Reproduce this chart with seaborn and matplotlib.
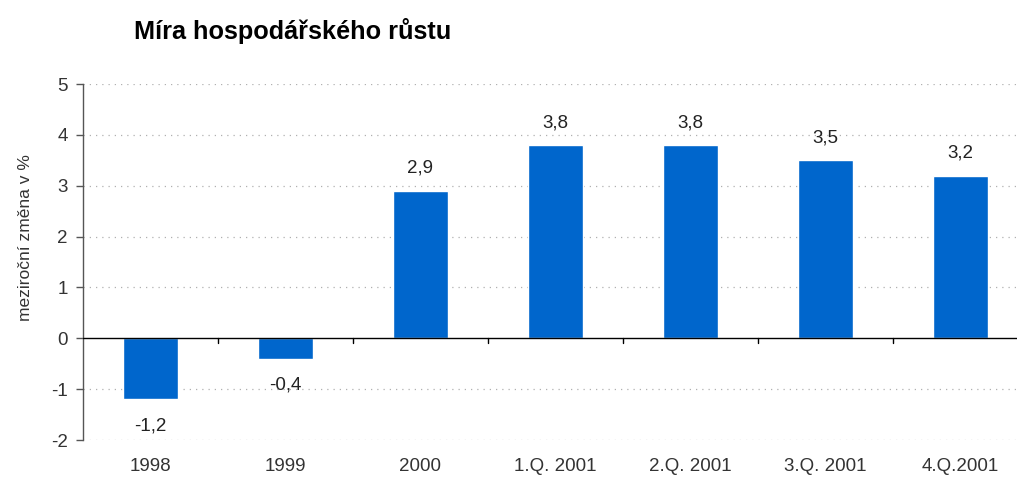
import matplotlib
matplotlib.use("Agg")
import matplotlib.pyplot as plt
import seaborn as sns
import numpy as np
import pandas as pd

categories = ["1998", "1999", "2000", "1.Q. 2001", "2.Q. 2001", "3.Q. 2001", "4.Q.2001"]
values = [-1.2, -0.4, 2.9, 3.8, 3.8, 3.5, 3.2]
yticks = [-2, -1, 0, 1, 2, 3, 4, 5]
title = "Míra hospodářského růstu"
ylabel = "meziroční změna v %"

sns.set_theme(style="white")
plt.rcParams["font.family"] = ["Liberation Sans", "DejaVu Sans"]

fig = plt.figure(figsize=(10.17, 4.83), dpi=100)
ax = fig.add_axes([0.0816, 0.089, 0.9184, 0.737])

df = pd.DataFrame({"cat": categories, "val": values})
sns.barplot(data=df, x="cat", y="val", color="#0066CC", saturation=1, width=0.41, ax=ax, zorder=3)

ax.set_ylim(-2, 5)
ax.set_xlim(-0.5, 6.42)
ax.set_yticks(yticks)
ax.set_yticklabels([str(t) for t in yticks], fontsize=13.5, color="#333333")
ax.set_xticks(range(len(categories)))
ax.set_xticklabels(categories, fontsize=13.5, color="#333333")
ax.tick_params(axis="x", length=0, pad=13)
ax.tick_params(axis="y", length=5, width=1, color="#555555", direction="out", left=True, pad=6)
ax.set_xlabel("")
ax.set_ylabel(ylabel, fontsize=12.5, color="#333333")
ax.yaxis.set_label_coords(-0.054, 0.57)

for t in yticks:
    if t != 0:
        ax.axhline(t, color="#b0b0b0", lw=0.9, ls=(0, (1, 4)), zorder=1)
ax.axhline(0, color="black", lw=1, zorder=4)

# category boundary ticks on the zero line
for i in range(len(categories) - 1):
    ax.plot([i + 0.5, i + 0.5], [0, -0.1], color="black", lw=1, zorder=4)

for s in ["top", "right", "bottom"]:
    ax.spines[s].set_visible(False)
ax.spines["left"].set_color("#555555")
ax.spines["left"].set_linewidth(1)

for i, v in enumerate(values):
    lab = f"{v:.1f}".replace(".", ",")
    if v >= 0:
        ax.annotate(lab, (i, v), xytext=(0, 10), textcoords="offset points",
                    ha="center", va="bottom", fontsize=13.5, color="#222222")
    else:
        ax.annotate(lab, (i, v), xytext=(0, -13), textcoords="offset points",
                    ha="center", va="top", fontsize=13.5, color="#222222")

fig.text(0.288, 0.935, title, fontsize=18.2, fontweight="bold", ha="center", va="center", color="black")

fig.savefig("out.png", dpi=100)
